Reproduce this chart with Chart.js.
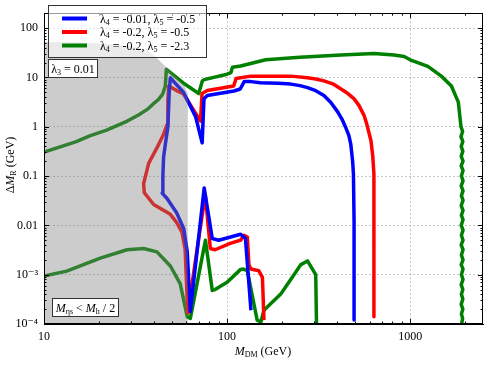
<!DOCTYPE html>
<html><head><meta charset="utf-8">
<script src="https://cdn.jsdelivr.net/npm/chart.js@4"></script>
<style>html,body{margin:0;padding:0;background:#fff;}canvas{display:block;}</style>
</head><body>
<canvas id="c" width="488" height="366"></canvas>
<script>
// ---- data (M_DM in GeV, Delta M_R in GeV) ----
const xTickValues = [10, 100, 1000];
const yTickValues = [1e-4, 1e-3, 0.01, 0.1, 1, 10, 100];
const legendL4 = ['-0.01', '-0.2', '-0.2'];
const legendL5 = ['-0.5', '-0.5', '-2.3'];

const blueMass  = [135,126,118.6,104.5,90,83,75,63,60.6,58,53,47,44.2,44.6,45,46,47.5,48.3,49,57.8,67.3,73.1,74.8,78,109,118,124,135,152,190,223,250,275,305,338,369,402,424,446,463,474,485,490,494,494];
const blueSplit = [1.9e-4,5.4e-3,6.6e-3,5.8e-3,5e-3,5.4e-3,0.057,1.8e-4,2.9e-3,8.5e-3,0.018,0.035,0.045,0.1,0.24,0.44,1.0,5,9.8,5.0,1.6,0.47,3.7,4.3,5.3,5.8,8.2,8.2,7.8,7.6,7.3,6.8,6.2,5.36,4.3,3.1,2.0,1.43,0.94,0.66,0.44,0.2,0.11,0.012,1.2e-4];

const redMass  = [159,156,149,135,131.6,129,123.6,118.6,104,86,81,76,61,59,56.7,53,49,39.7,35.3,35,37.3,41.5,45,47,47.5,48,53,57.6,71.6,73,78,108.6,112,118.6,135,152,223,275,305,338,378,419,457,493,525,560,581,611,625,634,634,634];
const redSplit = [1.2e-4,8.8e-4,1.2e-3,1.3e-3,1.6e-3,5.8e-3,6.3e-3,5e-3,4.3e-3,3.2e-3,3.4e-3,0.042,1.7e-4,3.3e-3,7.3e-3,0.0115,0.0167,0.0265,0.046,0.07,0.18,0.38,0.7,1.1,3.4,6.7,5.4,4.7,1.3,4.7,5.4,6.7,9.5,9.8,10.6,10.6,10.6,9.8,9.3,8.5,7.4,5.8,4.7,3.7,2.71,1.7,1.09,0.52,0.25,0.11,0.01,1.4e-4];

const greenHighMass  = [10,12.5,15,17.9,22,28.5,33,37,39.5,42,44.4,46,46.6,57.6,70,73.3,75,100,105,107,118.6,162.5,250,419,635,817,927,1000,1250,1480,1680,1833,
  1895,1935,1895,1940,1900,1940,1900,1945,1900,1945,1905,1945,1900,1945,1905,1945,1900,1945,1905,1945,1900,1945,1905,1945,1900,1945,1905,1945,1900,1945,1905,1945,1900,1940,1905,1940,1900,1940,1905,1935,1910];
const greenHighSplit = [0.305,0.4,0.5,0.66,0.85,1.3,1.75,2.3,2.9,3.5,4.5,6.7,14.6,7.7,4.7,8.5,9,11.6,12.5,16,17,22.7,25.5,28.5,30.6,28.5,26.4,22.7,16.7,10.6,6.7,3.15,
  1.0,0.8,0.63,0.5,0.4,0.32,0.25,0.2,0.16,0.13,0.1,0.08,0.063,0.05,0.04,0.032,0.025,0.02,0.016,0.013,0.01,8e-3,6.3e-3,5e-3,4e-3,3.2e-3,2.5e-3,2e-3,1.6e-3,1.3e-3,1e-3,8e-4,6.3e-4,5e-4,4e-4,3.2e-4,2.5e-4,2e-4,1.6e-4,1.3e-4,1e-4];

const greenLowMass  = [10,13.3,20.3,28.4,35,41.4,49,55.5,60.6,63,76.2,83,86,100,118.6,123,129,146,153,159,197,232,253,275,305,308];
const greenLowSplit = [9.4e-4,1.18e-3,2.17e-3,3.2e-3,3.4e-3,2.9e-3,1.5e-3,6.5e-4,1.4e-4,1.3e-4,5e-3,4.8e-4,5e-4,7e-4,1.28e-3,1.3e-3,1.2e-3,1.2e-4,1.1e-4,1.9e-4,4.1e-4,1e-3,1.6e-3,1.9e-3,1e-3,1e-4];

// shaded region M_eta < M_h/2 (upper boundary)
const shadeMass  = [10,15.75,22.98,29.6,36.6,41.6,47.2,53.5,58.4,61];
const shadeSplit = [52,51,47.6,42.5,36.2,24,15.3,9.7,6.7,4.7];

const colors = ['#0000ff', '#ff0000', '#008000'];
const SERIF = "'Liberation Serif','DejaVu Serif',serif";

function pts(xs, ys){ return xs.map((m,i)=>({x:m, y:ys[i]})); }
function ds(xs, ys, c){ return {data: pts(xs,ys), borderColor: c, backgroundColor: c, showLine: true, pointRadius: 0, borderWidth: 3.5, fill: false, tension: 0, borderJoinStyle: 'round'}; }

function rich(ctx, x, y, runs, align){
  let w = 0;
  runs.forEach(r=>{ ctx.font = r.f; r.w = ctx.measureText(r.t).width; w += r.w; });
  let cx = align === 'center' ? x - w/2 : (align === 'right' ? x - w : x);
  ctx.textBaseline = 'alphabetic'; ctx.textAlign = 'left';
  runs.forEach(r=>{ ctx.font = r.f; ctx.fillText(r.t, cx, y + (r.dy||0)); cx += r.w; });
}
const F = (s, it) => (it ? 'italic ' : '') + s + 'px ' + SERIF;

const deco = {
  id: 'deco',
  beforeDraw(chart){ const c = chart.ctx; c.save(); c.fillStyle = '#fff'; c.fillRect(0,0,chart.width,chart.height); c.restore(); },
  afterDatasetsDraw(chart){
    const c = chart.ctx, xs = chart.scales.x, ys = chart.scales.y, a = chart.chartArea;
    c.save();
    c.beginPath(); c.rect(a.left, a.top, a.right-a.left, a.bottom-a.top); c.clip();
    c.beginPath();
    c.moveTo(xs.getPixelForValue(shadeMass[0]), a.bottom);
    shadeMass.forEach((m,i)=> c.lineTo(xs.getPixelForValue(m), ys.getPixelForValue(shadeSplit[i])));
    c.lineTo(xs.getPixelForValue(shadeMass[shadeMass.length-1]), a.bottom);
    c.closePath();
    c.fillStyle = 'rgba(128,128,128,0.4)'; c.fill();
    c.restore();

    c.save();
    c.strokeStyle = '#000'; c.lineWidth = 1;
    c.beginPath();
    for (let d = 1; d <= 3; d++) for (let m = 1; m <= 9; m++) {
      const v = m * Math.pow(10, d); if (v < xs.min || v > xs.max) continue;
      const p = Math.round(xs.getPixelForValue(v)) + 0.5, L = m === 1 ? 5 : 2.5;
      c.moveTo(p, a.bottom); c.lineTo(p, a.bottom - L);
      c.moveTo(p, a.top); c.lineTo(p, a.top + L);
    }
    for (let d = -4; d <= 2; d++) for (let m = 1; m <= 9; m++) {
      const v = m * Math.pow(10, d); if (v < ys.min*0.999 || v > ys.max) continue;
      const p = Math.round(ys.getPixelForValue(v)) + 0.5, L = m === 1 ? 5 : 2.5;
      c.moveTo(a.left, p); c.lineTo(a.left + L, p);
      c.moveTo(a.right, p); c.lineTo(a.right - L, p);
    }
    c.stroke();
    c.strokeRect(Math.round(a.left)+0.5, Math.round(a.top)+0.5, Math.round(a.right-a.left)-1, Math.round(a.bottom-a.top)-1);

    // legend
    c.fillStyle = 'rgba(255,255,255,0.6)'; c.fillRect(48.5, 5.5, 158, 52);
    c.strokeStyle = '#333'; c.lineWidth = 1; c.strokeRect(48.5, 5.5, 158, 52);
    const rows = [18.5, 32, 45.5];
    rows.forEach((ry, i) => {
      c.strokeStyle = colors[i]; c.lineWidth = 4; c.beginPath(); c.moveTo(62, ry); c.lineTo(87, ry); c.stroke();
      c.fillStyle = '#000';
      rich(c, 100, ry + 4, [
        {t:'λ', f:F(12)}, {t:'4', f:F(8), dy:2}, {t:' = ' + legendL4[i] + ', ', f:F(12)},
        {t:'λ', f:F(12)}, {t:'5', f:F(8), dy:2}, {t:' = ' + legendL5[i], f:F(12)}
      ], 'left');
    });
    c.fillStyle = '#fff'; c.fillRect(48.5, 59.5, 49, 18); c.strokeStyle = '#333'; c.lineWidth = 1; c.strokeRect(48.5, 59.5, 49, 18);
    c.fillStyle = '#000';
    rich(c, 73, 72.5, [{t:'λ', f:F(12)}, {t:'3', f:F(8), dy:2}, {t:' = 0.01', f:F(12)}], 'center');
    c.fillStyle = '#fff'; c.fillRect(52.5, 298.5, 66, 18); c.strokeRect(52.5, 298.5, 66, 18);
    c.fillStyle = '#000';
    rich(c, 85.5, 311.5, [{t:'M', f:F(12,true)}, {t:'ηs', f:F(8), dy:2}, {t:' < ', f:F(12)}, {t:'M', f:F(12,true)}, {t:'h', f:F(8), dy:2}, {t:' / 2', f:F(12)}], 'center');

    rich(c, 263, 355, [{t:'M', f:F(12,true)}, {t:'DM', f:F(8), dy:2}, {t:' (GeV)', f:F(12)}], 'center');
    c.save(); c.translate(14, 165); c.rotate(-Math.PI/2);
    rich(c, 0, 0, [{t:'Δ', f:F(12)}, {t:'M', f:F(12,true)}, {t:'R', f:F(8), dy:2}, {t:' (GeV)', f:F(12)}], 'center');
    c.restore();
    c.restore();
  }
};

const supers = {'-':'⁻','0':'⁰','1':'¹','2':'²','3':'³','4':'⁴'};
function yLabel(v){
  if (v >= 0.01) return String(+v.toPrecision(3));
  const e = Math.round(Math.log10(v));
  return '10' + String(e).split('').map(ch => supers[ch]).join('');
}

new Chart(document.getElementById('c'), {
  type: 'scatter',
  data: { datasets: [
    ds(blueMass, blueSplit, colors[0]),
    ds(redMass, redSplit, colors[1]),
    ds(greenHighMass, greenHighSplit, colors[2]),
    ds(greenLowMass, greenLowSplit, colors[2])
  ]},
  options: {
    responsive: false, animation: false, devicePixelRatio: 1,
    layout: { padding: { top: 5, right: 5, left: 0, bottom: 0 } },
    plugins: { legend: { display: false }, tooltip: { enabled: false } },
    scales: {
      x: {
        type: 'logarithmic', min: 10, max: 2500,
        afterBuildTicks(s){ s.ticks = xTickValues.map(v => ({value: v})); },
        afterFit(s){ s.height = 42; },
        ticks: { callback: v => String(v), font: { family: SERIF, size: 12 }, color: '#000', padding: 6, maxRotation: 0, autoSkip: false },
        grid: { color: '#c4c4c4', lineWidth: 1, drawTicks: false },
        border: { display: true, color: '#000', dash: [2, 2] }
      },
      y: {
        type: 'logarithmic', min: 1e-4, max: 200,
        afterBuildTicks(s){ s.ticks = yTickValues.map(v => ({value: v})); },
        afterFit(s){ s.width = 44; },
        ticks: { callback: v => yLabel(v), font: { family: SERIF, size: 12 }, color: '#000', padding: 6, autoSkip: false },
        grid: { color: '#c4c4c4', lineWidth: 1, drawTicks: false },
        border: { display: true, color: '#000', dash: [2, 2] }
      }
    }
  },
  plugins: [deco]
});
</script>
</body></html>
